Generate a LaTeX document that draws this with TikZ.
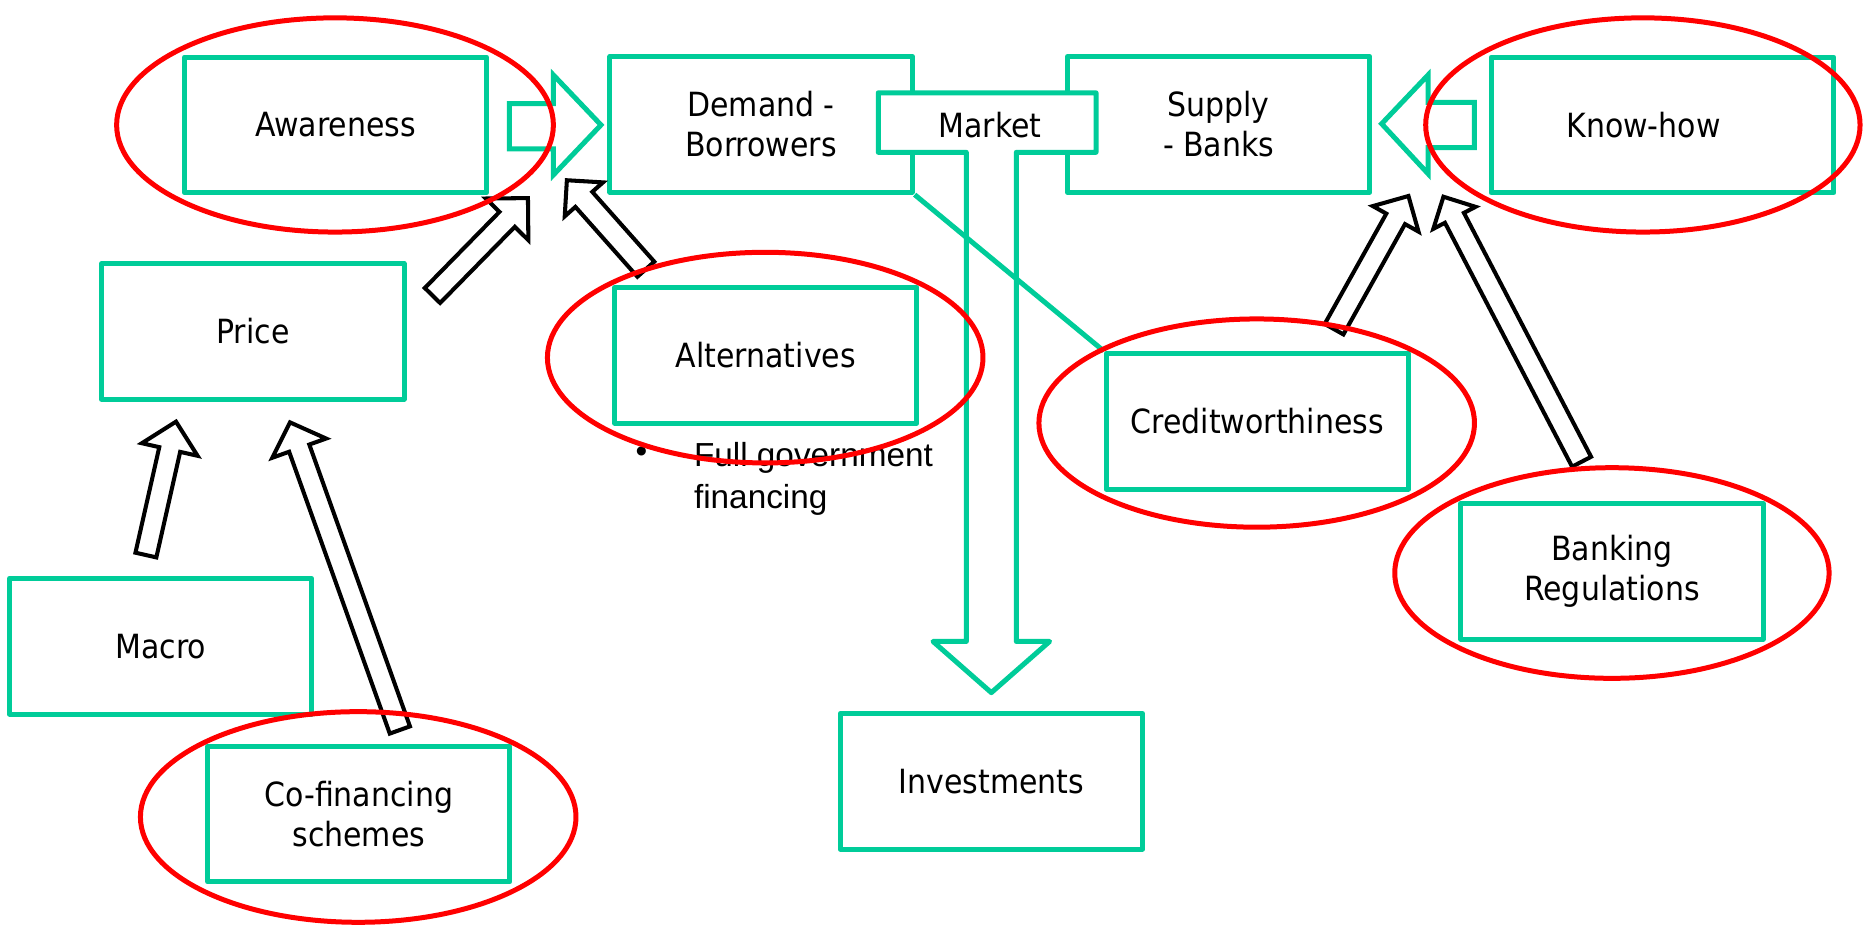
\documentclass[tikz,border=0pt]{standalone}
\usepackage{fontspec}
\setmainfont{DejaVu Sans Condensed}
\newfontfamily\arialfont{Liberation Sans}
\definecolor{tealgreen}{RGB}{0,204,153}
\newcommand{\blockarr}[8]{%
  \pgfmathsetmacro{\baang}{atan2(#3-#5,#4-#2)}%
  \pgfmathsetmacro{\balen}{veclen(#4-#2,#5-#3)}%
  \pgfmathsetmacro{\babase}{\balen-#8}%
  \draw[#1,shift={(#2,#3)},rotate=\baang] (0,-#6) -- (\babase,-#6) -- (\babase,-#7) -- (\balen,0) -- (\babase,#7) -- (\babase,#6) -- (0,#6) -- cycle;}
\begin{document}
\begin{tikzpicture}[x=1pt,y=-1pt,
  box/.style={draw=tealgreen, line width=4.2pt, fill=white, minimum width=254pt, minimum height=114pt, inner sep=0pt, align=center, font=\fontsize{28}{33.6}\selectfont, line join=round},
  oval/.style={draw=red, line width=4.2pt},
  blk/.style={draw=black, line width=3.4pt, fill=white, line join=miter},
  garrow/.style={draw=tealgreen, line width=4.2pt, fill=white, line join=miter},
  lbl/.style={font=\fontsize{28}{33.6}\selectfont, inner sep=0pt},
  bul/.style={font=\arialfont\fontsize{28}{35}\selectfont, inner sep=0pt}]
\useasboundingbox (0,0) rectangle (1568,779);
% boxes
\node[box] (aware) at (282,105) {Awareness};
\node[box] (demand) at (639.5,104.5) {Demand -\\Borrowers};
\node[box] (supply) at (1024,104.5) {Supply\\- Banks};
\node[box, minimum width=288pt] (knowhow) at (1397,105) {};
\node[lbl] (knowhowtxt) at (1381,105) {Know-how};
\node[box] (price) at (212.5,278.5) {Price};
\node[box] (alt) at (643.5,298.5) {Alternatives};
\node[box] (macro) at (135,543) {Macro};
\node[box] (cofin) at (301.5,684) {Co-financing\\schemes};
\node[box] (invest) at (833,656.5) {Investments};
\node[box] (bank) at (1354.5,480) {Banking\\Regulations};
% market callout arrow
\draw[garrow, line join=round] (738,78) -- (921,78) -- (921,128) -- (854,128) -- (854,539) -- (882,539) -- (833,582) -- (784,539) -- (812,539) -- (812,128) -- (738,128) -- cycle;
\node[lbl] (market) at (832,105) {Market};
% link demand -> creditworthiness
\node[box] (credit) at (1056.5,354) {Creditworthiness};
\draw[tealgreen, line width=4.2pt] (demand.south east) -- (credit.north west);
% green block arrows
\draw[garrow] (428,87) -- (465,87) -- (465,63) -- (505,105) -- (465,147) -- (465,125) -- (428,125) -- cycle;
\draw[garrow] (1239,86) -- (1200,86) -- (1200,63) -- (1161,104) -- (1200,146) -- (1200,124) -- (1239,124) -- cycle;
% black block arrows
\blockarr{blk}{363.4}{248.3}{443.7}{166.4}{9}{25}{25}
\blockarr{blk}{542.7}{226.2}{476.2}{151.3}{9.5}{21.5}{21.5}
\blockarr{blk}{122.6}{466.4}{147.9}{354.3}{9}{24}{24}
\blockarr{blk}{336}{613.4}{243.7}{354.9}{9}{24}{23}
\blockarr{blk}{1121}{276.6}{1183.5}{164.7}{9}{22}{22}
\blockarr{blk}{1329}{388}{1212.9}{165.3}{9}{20}{20}
% bullet text
\node[bul] (bullet) at (539,382) {•};
\node[bul, anchor=base west] (fgf1) at (583,392) {Full government};
\node[bul, anchor=base west] (fgf2) at (583,427) {financing};
% red ellipses
\draw[oval] (281.5,105) ellipse [x radius=183.5, y radius=90];
\draw[oval] (643,300.5) ellipse [x radius=183, y radius=88.5];
\draw[oval] (1056,355.5) ellipse [x radius=183, y radius=87.5];
\draw[oval] (1380.5,105) ellipse [x radius=182.5, y radius=90];
\draw[oval] (1354.5,481.5) ellipse [x radius=182.5, y radius=88.5];
\draw[oval] (301,686.5) ellipse [x radius=183, y radius=88.5];
\end{tikzpicture}
\end{document}
